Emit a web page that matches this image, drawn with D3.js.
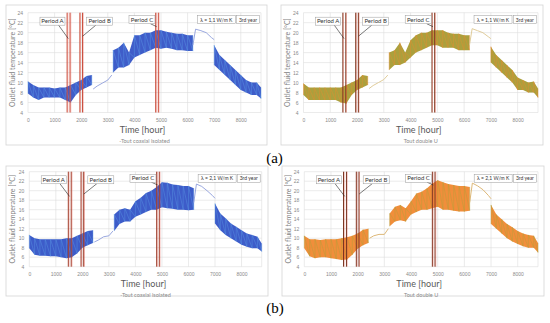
<!DOCTYPE html>
<html>
<head>
<meta charset="utf-8">
<script src="https://cdn.jsdelivr.net/npm/d3@7"></script>
<style>
  body { margin: 0; background: #fff; }
  svg { display: block; font-family: Lato, "Open Sans", sans-serif; }
</style>
</head>
<body>
<div id="chart"></div>
<script>
// hours where the noisy band was read (three blocks of the year)
const bandHours = [0, 200, 400, 600, 800, 1000, 1200, 1400, 1600, 1800, 2000, 2200, 2400,
  3200, 3400, 3600, 3800, 4000, 4200, 4400, 4600, 4800, 5000, 5200, 5400, 5600, 5800, 6000, 6200,
  7000, 7200, 7400, 7600, 7800, 8000, 8200, 8400, 8600, 8760];
// hours of the smooth stretches between the blocks
const lineHours = [2450, 2600, 2800, 3000, 3150, 6200, 6300, 6500, 6700, 6900, 7000];

const xTicks = [0, 1000, 2000, 3000, 4000, 5000, 6000, 7000, 8000];
const yTicks = [4, 6, 8, 10, 12, 14, 16, 18, 20, 22, 24];

const periods = [["Period A", 1470, 1580], ["Period B", 1950, 2050], ["Period C", 4800, 4900]];

// (a) lambda 1,1 - coaxial isolated
const coaxLo11 = [7.8, 7.0, 6.5, 7.0, 7.0, 7.0, 7.0, 6.5, 6.0, 7.5, 8.5, 9.0, 9.5,
  12.0, 13.0, 13.0, 13.5, 15.0, 15.5, 16.0, 16.5, 17.0, 16.8, 17.0, 16.8, 16.5, 16.5, 16.3, 16.3,
  13.5, 12.5, 11.5, 10.5, 9.5, 8.5, 8.0, 7.5, 7.5, 6.8];
const coaxHi11 = [10.2, 9.5, 9.0, 9.0, 9.0, 8.8, 9.0, 9.0, 9.5, 10.0, 10.5, 11.3, 11.5,
  16.5, 17.0, 18.0, 16.0, 19.5, 19.5, 20.0, 20.0, 20.5, 20.5, 20.2, 20.0, 19.8, 19.8, 19.5, 19.5,
  17.5, 15.5, 14.5, 13.5, 12.5, 11.5, 10.5, 10.0, 10.0, 9.0];
const coaxLine11 = [8.7, 9.3, 9.9, 10.5, 11.5, 17.5, 20.7, 20.4, 20.0, 19.0, 18.6];

// (a) lambda 1,1 - double U
const dblLo11 = [7.5, 6.5, 6.5, 6.5, 6.5, 6.5, 6.5, 6.0, 5.8, 7.5, 8.5, 9.0, 9.5,
  12.5, 13.5, 13.5, 14.0, 15.0, 16.0, 16.5, 17.0, 17.5, 17.5, 17.0, 17.0, 17.0, 16.5, 16.5, 16.5,
  14.0, 13.0, 12.0, 11.0, 10.0, 8.5, 8.5, 8.0, 8.0, 7.0];
const dblHi11 = [9.8, 9.0, 9.0, 9.0, 9.0, 9.0, 9.0, 9.0, 9.5, 10.0, 10.5, 11.5, 11.3,
  16.0, 16.5, 18.0, 16.0, 18.5, 19.5, 20.0, 20.0, 20.5, 20.5, 20.5, 20.0, 19.8, 19.8, 19.5, 19.5,
  17.2, 15.5, 14.5, 13.5, 12.5, 11.0, 10.5, 10.0, 10.2, 8.8];
const dblLine11 = [8.8, 9.4, 10.0, 10.6, 11.5, 17.5, 20.8, 20.4, 20.0, 19.2, 18.8];

// (b) lambda 2,1 - coaxial isolated
const coaxLo21 = [7.9, 6.5, 6.3, 6.3, 6.2, 6.2, 6.0, 5.8, 6.0, 6.8, 8.0, 8.5, 9.0,
  11.5, 13.0, 13.5, 13.5, 14.5, 15.0, 15.5, 16.0, 16.0, 16.5, 16.3, 16.2, 16.0, 16.0, 15.9, 16.0,
  13.1, 11.7, 10.7, 10.0, 9.3, 8.6, 8.2, 7.9, 7.9, 7.2];
const coaxHi21 = [10.7, 10.0, 9.8, 9.8, 9.8, 9.8, 9.8, 10.0, 10.0, 10.5, 11.0, 11.5, 11.7,
  15.0, 16.0, 16.3, 16.0, 17.8, 18.5, 19.5, 20.0, 20.8, 21.8, 21.7, 21.3, 21.2, 21.0, 21.0, 20.5,
  17.3, 15.2, 14.2, 13.1, 12.4, 11.7, 11.0, 10.7, 10.3, 8.9];
const coaxLine21 = [9.2, 9.6, 10.3, 10.5, 11.5, 17.5, 21.4, 20.9, 20.0, 19.0, 18.4];

// (b) lambda 2,1 - double U
const dblLo21 = [7.9, 6.2, 5.8, 6.0, 6.0, 5.8, 5.6, 5.4, 5.5, 6.5, 7.8, 8.5, 9.0,
  12.5, 13.5, 13.8, 13.5, 15.0, 15.5, 16.0, 16.0, 16.3, 16.6, 16.0, 16.0, 15.8, 15.6, 15.6, 15.8,
  13.0, 12.0, 11.0, 10.0, 9.3, 8.8, 8.3, 8.0, 8.0, 7.0];
const dblHi21 = [10.5, 9.8, 9.8, 9.6, 9.8, 9.8, 9.8, 10.0, 10.2, 10.5, 11.0, 11.8, 12.0,
  15.2, 16.6, 17.0, 16.3, 17.8, 19.4, 19.8, 20.5, 21.5, 22.2, 21.8, 21.4, 21.2, 21.0, 21.0, 20.8,
  17.0, 15.0, 14.0, 13.0, 12.3, 11.5, 11.0, 10.7, 10.5, 9.0];
const dblLine21 = [10.0, 10.5, 10.8, 10.8, 12.0, 17.5, 21.6, 21.0, 20.2, 19.0, 18.3];

const width = 550, height = 323;
const svg = d3.select("#chart").append("svg")
  .attr("width", width).attr("height", height);

const panels = [
  { frame: [6, 5, 267, 145], px: [28, 261], py: [112.5, 12.7], lo: coaxLo11, hi: coaxHi11, line: coaxLine11,
    lam: "λ = 1,1 W/m K", legend: "-Tout coaxial isolated",
    area: "#2f4fc4", zig: "#5fa0ea", lineCol: "#8f9edb", per: "#c9503e" },
  { frame: [281, 5, 543, 145], px: [303.5, 538], py: [112.5, 12.7], lo: dblLo11, hi: dblHi11, line: dblLine11,
    lam: "λ = 1,1 W/m K", legend: "Tout double U",
    area: "#a4982c", zig: "#ee8a30", lineCol: "#dcc690", per: "#7e3b22" },
  { frame: [6, 166, 268, 296], px: [29.3, 261.7], py: [266.7, 171.7], lo: coaxLo21, hi: coaxHi21, line: coaxLine21,
    lam: "λ = 2,1 W/m K", legend: "-Tout coaxial isolated",
    area: "#2d4ec4", zig: "#5c9ce6", lineCol: "#8f9edb", per: "#9c3f2c" },
  { frame: [282, 166, 544, 296], px: [304.3, 538], py: [266.7, 171.7], lo: dblLo21, hi: dblHi21, line: dblLine21,
    lam: "λ = 2,1 W/m K", legend: "Tout double U",
    area: "#f0842a", zig: "#a9a23a", lineCol: "#d9b06a", per: "#7a3520" }
];

// split an index list into runs wherever the hours jump
function runs(hrs) {
  const out = [];
  let cur = [0];
  for (let i = 1; i < hrs.length; i++) {
    if (hrs[i] - hrs[i - 1] > 400) { out.push(cur); cur = []; }
    cur.push(i);
  }
  out.push(cur);
  return out;
}

panels.forEach(p => {
  const g = svg.append("g");
  const [fx0, fy0, fx1, fy1] = p.frame;
  g.append("rect").attr("x", fx0).attr("y", fy0)
    .attr("width", fx1 - fx0).attr("height", fy1 - fy0)
    .attr("fill", "#fff").attr("stroke", "#d4d4d4").attr("stroke-width", 0.8);

  const x = d3.scaleLinear().domain([0, 8760]).range(p.px);
  const y = d3.scaleLinear().domain([4, 24]).range(p.py);

  // grid
  g.selectAll(".hg").data(yTicks).join("line")
    .attr("x1", p.px[0]).attr("x2", p.px[1])
    .attr("y1", d => y(d)).attr("y2", d => y(d))
    .attr("stroke", "#dedede").attr("stroke-width", 0.6);
  g.selectAll(".vg").data(xTicks.concat([8760])).join("line")
    .attr("x1", d => x(d)).attr("x2", d => x(d))
    .attr("y1", y(4)).attr("y2", y(24))
    .attr("stroke", "#dedede").attr("stroke-width", 0.6);

  // axes (labels only)
  const xa = g.append("g").attr("transform", `translate(0,${y(4) + 3})`)
    .call(d3.axisBottom(x).tickValues(xTicks).tickFormat(d3.format("d")).tickSize(0).tickPadding(3));
  const ya = g.append("g").attr("transform", `translate(${p.px[0] - 3},0)`)
    .call(d3.axisLeft(y).tickValues(yTicks).tickSize(0).tickPadding(2));
  [xa, ya].forEach(a => {
    a.select(".domain").remove();
    a.selectAll("text").attr("fill", "#8a8a8a").style("font-size", "5px");
  });

  // band
  const segs = runs(bandHours);
  const area = d3.area().x(i => x(bandHours[i])).y0(i => y(p.lo[i])).y1(i => y(p.hi[i]));
  segs.forEach(s => {
    g.append("path").attr("d", area(s)).attr("fill", p.area).attr("opacity", 0.92);
    const pts = [];
    s.forEach(i => { pts.push([x(bandHours[i]), y(p.lo[i])]); pts.push([x(bandHours[i]), y(p.hi[i])]); });
    g.append("path").attr("d", d3.line()(pts))
      .attr("fill", "none").attr("stroke", p.zig).attr("stroke-width", 0.5).attr("opacity", 0.8);
  });

  // smooth stretches
  const ln = d3.line().x(i => x(lineHours[i])).y(i => y(p.line[i]));
  runs(lineHours).forEach(s => {
    g.append("path").attr("d", ln(s)).attr("fill", "none")
      .attr("stroke", p.lineCol).attr("stroke-width", 0.9);
  });

  // period boundaries
  periods.forEach(([name, a, b]) => {
    [a, b].forEach(h => {
      g.append("line").attr("x1", x(h)).attr("x2", x(h)).attr("y1", y(4)).attr("y2", y(24))
        .attr("stroke", p.per).attr("stroke-width", 1);
      g.append("line").attr("x1", x(h) + 0.8).attr("x2", x(h) + 0.8).attr("y1", y(4)).attr("y2", y(24))
        .attr("stroke", "#e84a3c").attr("stroke-width", 0.4).attr("opacity", 0.8);
    });
  });

  // callout boxes: [text, centre hour, centre value, width, pointer from, pointer to]
  const boxes = [
    ["Period A", 920, 22.3, 25, [1150, 21.5], [1515, 18.8]],
    ["Period B", 2695, 22.3, 26, [2550, 21.5], [2056, 19.3]],
    ["Period C", 4285, 22.6, 26, [4600, 21.8], [4838, 21.2]],
    [p.lam, 7080, 22.6, 38, null, null],
    ["3rd year", 8270, 22.6, 23, null, null]
  ];
  boxes.forEach(([t, h, v, w, f, to]) => {
    if (f) {
      g.append("line").attr("x1", x(f[0])).attr("y1", y(f[1]))
        .attr("x2", x(to[0])).attr("y2", y(to[1]))
        .attr("stroke", "#222").attr("stroke-width", 0.6);
    }
    g.append("rect").attr("x", x(h) - w / 2).attr("y", y(v) - 4)
      .attr("width", w).attr("height", 8)
      .attr("fill", "#fff").attr("stroke", "#9a9a9a").attr("stroke-width", 0.5);
    g.append("text").attr("x", x(h)).attr("y", y(v) + 2)
      .attr("text-anchor", "middle").attr("fill", "#333")
      .style("font-size", t.startsWith("Period") ? "6px" : "5px").text(t);
  });

  // titles
  const midX = (p.px[0] + p.px[1]) / 2;
  g.append("text").attr("x", midX - 2).attr("y", y(4) + 20.5)
    .attr("text-anchor", "middle").attr("fill", "#595959")
    .style("font-size", "9px").text("Time [hour]");
  g.append("text").attr("x", midX).attr("y", y(4) + 30)
    .attr("text-anchor", "middle").attr("fill", "#8a8a8a")
    .style("font-size", "5.5px").text(p.legend);
  g.append("text")
    .attr("transform", `translate(${fx0 + 8.5},${(y(4) + y(24)) / 2}) rotate(-90)`)
    .attr("text-anchor", "middle").attr("fill", "#7f7f7f")
    .style("font-size", "7px").text("Outlet fluid temperature [°C]");
});

svg.append("text").attr("x", 274.5).attr("y", 163).attr("text-anchor", "middle")
  .style("font-family", "'Liberation Serif', serif").style("font-size", "15px").text("(a)");
svg.append("text").attr("x", 275).attr("y", 313).attr("text-anchor", "middle")
  .style("font-family", "'Liberation Serif', serif").style("font-size", "15px").text("(b)");
</script>
</body>
</html>
